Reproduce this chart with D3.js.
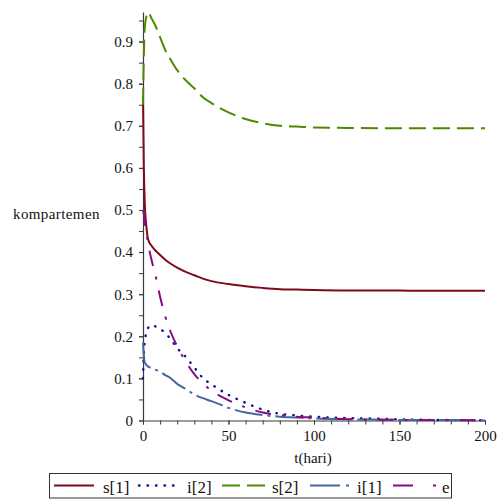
<!DOCTYPE html>
<html>
<head>
<meta charset="utf-8">
<script src="https://cdnjs.cloudflare.com/ajax/libs/d3/7.8.5/d3.min.js"></script>
<style>
  html, body { margin: 0; padding: 0; background: #fff; }
  svg { display: block; font-family: "Liberation Serif", "Times New Roman", serif; }
</style>
</head>
<body>
<svg id="chart" width="498" height="500"></svg>
<script>
// Time in days
const tDays = [0, 0.5, 1, 2, 3, 5, 7, 10, 13, 16, 20, 25, 30, 35, 40, 50, 60, 70, 80, 90, 100, 120, 140, 160, 180, 200];

// Compartment values over time
const s1Vals = [0.77, 0.60, 0.52, 0.46, 0.43, 0.415, 0.405, 0.393, 0.382, 0.373, 0.363, 0.353, 0.345, 0.337, 0.331, 0.324, 0.319, 0.315, 0.312, 0.311, 0.310, 0.309, 0.309, 0.308, 0.308, 0.308];
const i2Vals = [0.10, 0.16, 0.185, 0.21, 0.22, 0.227, 0.224, 0.217, 0.208, 0.194, 0.172, 0.151, 0.126, 0.101, 0.086, 0.061, 0.042, 0.026, 0.016, 0.012, 0.009, 0.006, 0.004, 0.002, 0.001, 0.001];
const s2Vals = [0.75, 0.87, 0.93, 0.96, 0.97, 0.955, 0.94, 0.91, 0.88, 0.858, 0.832, 0.808, 0.789, 0.768, 0.754, 0.732, 0.716, 0.706, 0.700, 0.698, 0.696, 0.695, 0.694, 0.694, 0.694, 0.694];
const i1Vals = [0.185, 0.155, 0.138, 0.132, 0.128, 0.125, 0.121, 0.116, 0.108, 0.101, 0.087, 0.075, 0.062, 0.053, 0.046, 0.030, 0.019, 0.013, 0.009, 0.007, 0.005, 0.003, 0.002, 0.001, 0.001, 0.0];
const eVals  = [0.50, 0.49, 0.47, 0.445, 0.42, 0.381, 0.35, 0.294, 0.247, 0.212, 0.176, 0.14, 0.11, 0.088, 0.071, 0.048, 0.031, 0.019, 0.013, 0.009, 0.007, 0.003, 0.002, 0.001, 0.001, 0.0];

// Axis ticks
const xTickVals = [0, 50, 100, 150, 200];
const xMinorVals = d3.range(0, 201, 10);
const yTickVals = [0, 0.1, 0.2, 0.3, 0.4, 0.5, 0.6, 0.7, 0.8, 0.9];
const yMinorVals = d3.range(0, 0.96, 0.05);

const seriesNames = ["s[1]", "i[2]", "s[2]", "i[1]", "e"];
const seriesVals = [s1Vals, i2Vals, s2Vals, i1Vals, eVals];

// Line styles per series
const styles = {
  "s[1]": { color: "#7e0a1c", dash: null, width: 2 },
  "i[2]": { color: "#0a1a8a", dash: "0.5,8", width: 2.4 },
  "s[2]": { color: "#4e8a00", dash: "17,7", width: 2 },
  "i[1]": { color: "#46669c", dash: "28,5,3,5", width: 2 },
  "e":    { color: "#8a0a86", dash: "16,11,3,11", width: 2 }
};

const svg = d3.select("#chart");

const x = d3.scaleLinear().domain([0, 200]).range([143, 485]);
const y = d3.scaleLinear().domain([0, 0.97]).range([420.5, 12.1]);

const axisColor = "#3a3a3a";

// Minor ticks
const gxMinor = svg.append("g").attr("transform", "translate(0,420.5)")
  .call(d3.axisBottom(x).tickValues(xMinorVals).tickSize(4).tickSizeOuter(0).tickFormat(""));
const gyMinor = svg.append("g").attr("transform", "translate(143,0)")
  .call(d3.axisLeft(y).tickValues(yMinorVals).tickSize(4).tickSizeOuter(0).tickFormat(""));
[gxMinor, gyMinor].forEach(g => {
  g.selectAll(".tick line").attr("stroke", axisColor);
  g.select(".domain").attr("stroke", axisColor).attr("stroke-width", 1.2);
});

// Labelled ticks
const gx = svg.append("g").attr("transform", "translate(0,420.5)")
  .call(d3.axisBottom(x).tickValues(xTickVals).tickSize(4).tickPadding(6).tickSizeOuter(0));
gx.select(".domain").remove();
gx.selectAll(".tick line").attr("stroke", axisColor);
gx.selectAll(".tick text").attr("font-size", 15).attr("fill", "#111")
  .attr("font-family", "Liberation Serif, serif");

const gy = svg.append("g").attr("transform", "translate(143,0)")
  .call(d3.axisLeft(y).tickValues(yTickVals).tickSize(4).tickPadding(6).tickSizeOuter(0)
    .tickFormat(d => d === 0 ? "0" : d3.format(".1f")(d)));
gy.select(".domain").remove();
gy.selectAll(".tick line").attr("stroke", axisColor);
gy.selectAll(".tick text").attr("font-size", 15).attr("fill", "#111")
  .attr("font-family", "Liberation Serif, serif");

// Axis titles
svg.append("text").attr("x", 313).attr("y", 463).attr("text-anchor", "middle")
  .attr("font-size", 15).attr("fill", "#111").text("t(hari)");
svg.append("text").attr("x", 13).attr("y", 219).attr("text-anchor", "start")
  .attr("font-size", 15).attr("letter-spacing", 0.4).attr("fill", "#111").text("kompartemen");

// Curves
const line = d3.line()
  .x(d => x(d[0]))
  .y(d => y(d[1]))
  .curve(d3.curveMonotoneX);

const plot = svg.append("g");
seriesNames.forEach((name, k) => {
  const pts = tDays.map((t, j) => [t, seriesVals[k][j]]);
  const st = styles[name];
  plot.append("path")
    .datum(pts)
    .attr("d", line)
    .attr("fill", "none")
    .attr("stroke", st.color)
    .attr("stroke-width", st.width)
    .attr("stroke-dasharray", st.dash)
    .attr("stroke-linecap", name === "i[2]" ? "round" : "butt");
});

// Legend
const legend = svg.append("g");
legend.append("rect").attr("x", 49.5).attr("y", 473.5).attr("width", 402).attr("height", 24.5)
  .attr("fill", "#fff").attr("stroke", "#333").attr("stroke-width", 1);

const legendSwatch = { "s[1]": [54, 94], "i[2]": [139, 176], "s[2]": [222, 265], "i[1]": [310, 349], "e": [393, 437] };
const legendText = { "s[1]": 103, "i[2]": 187, "s[2]": 272, "i[1]": 357, "e": 442 };
const legendDash = { "s[1]": null, "i[2]": "0.5,8", "s[2]": "18,7", "i[1]": "30,6,3,20", "e": "20,20,3,20" };

seriesNames.forEach(name => {
  const st = styles[name];
  const [x0, x1] = legendSwatch[name];
  legend.append("line")
    .attr("x1", x0).attr("x2", x1).attr("y1", 485.5).attr("y2", 485.5)
    .attr("stroke", st.color).attr("stroke-width", st.width)
    .attr("stroke-dasharray", legendDash[name])
    .attr("stroke-linecap", name === "i[2]" ? "round" : "butt");
  legend.append("text").attr("x", legendText[name]).attr("y", 493)
    .attr("font-size", 17).attr("fill", "#111").text(name);
});
</script>
</body>
</html>
